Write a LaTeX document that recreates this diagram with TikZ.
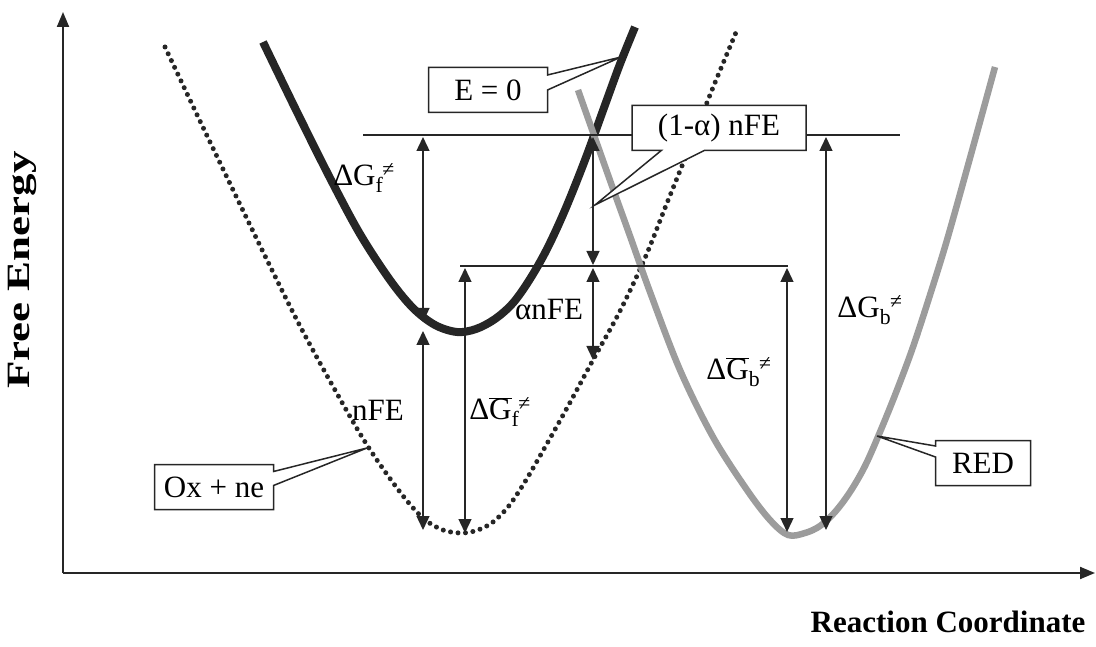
\documentclass[tikz,border=0pt]{standalone}
\usepackage{graphicx}
\usepackage{fontspec}
\setmainfont{Liberation Serif}
\usetikzlibrary{arrows.meta,shapes.callouts}
\definecolor{ink}{HTML}{262626}
\definecolor{redline}{HTML}{9C9C9C}

% G with a subscript and a superscript
\newcommand\Gsub[2]{G\textsubscript{#1}\kern-1pt\textsuperscript{#2}}
\newcommand\Gbar[2]{\(\overline{\mbox{G}}\)\textsubscript{#1}\kern-1pt\textsuperscript{#2}}

\begin{document}
\begin{tikzpicture}[
  x=1pt,y=-1pt,font=\fontsize{31}{36}\selectfont,
  axis/.style={draw=ink,line width=2pt,-{Triangle[length=15pt,width=12pt]}},
  level/.style={draw=ink,line width=1.4pt},
  gap/.style={draw=ink,line width=1.4pt,
    {Triangle[length=14pt,width=13pt]}-{Triangle[length=14pt,width=13pt]}},
  fwd/.style={draw=ink,line width=8pt},
  back/.style={draw=ink,line width=5pt,dash pattern=on 0pt off 7.5pt,line cap=round},
  red/.style={draw=redline,line width=6.5pt},
  tag/.style={rectangle callout,draw=ink,line width=1.5pt,fill=white,
    minimum height=45pt,inner sep=0pt},
  axislabel/.style={font=\fontsize{31}{36}\selectfont\bfseries}
]
\path[use as bounding box] (0,0) rectangle (1096,647);

% axes
\coordinate (o) at (63,573);
\coordinate (ytip) at (63,12);
\coordinate (xtip) at (1095,573);
\draw[axis] (o) -- (ytip);
\draw[axis] (o) -- (xtip);
\node[axislabel,rotate=90] (fe) at (22,270) {\scalebox{1.45}[1.05]{Free Energy}};
\node[axislabel] (rc) at (948,622) {Reaction Coordinate};

% the three free energy curves
\draw[back] plot[smooth,tension=.55] coordinates {(165,47) (200,121) (235,194)
  (268,262) (300,326) (335,390) (367,445) (400,492) (423,518) (443,530)
  (462,533) (478,530) (493,522) (508,507) (523,485) (540,456) (567,408)
  (593,360) (620,311) (645,258) (667,203) (690,146) (712,90) (737,30)};
\draw[fwd] plot[smooth,tension=.55] coordinates {(263,42) (297,112) (330,178)
  (360,234) (390,280) (413,308) (435,325) (457,332) (476,329) (495,319)
  (513,303) (530,279) (547,249) (565,210) (585,160) (605,105) (620,64)
  (635,27)};
\draw[red] plot[smooth,tension=.55] coordinates {(578,90) (595,138) (612,186)
  (630,236) (650,292) (680,370) (713,437) (747,490) (770,520) (788,535)
  (805,533) (820,526) (835,512) (850,492) (865,466) (880,432) (897,390)
  (913,347) (930,295) (947,240) (970,158) (995,67)};

% energy levels
\coordinate (topL) at (363,135);
\coordinate (topR) at (900,135);
\coordinate (midL) at (460,266);
\coordinate (midR) at (788,266);
\draw[level] (topL) -- (topR);
\draw[level] (midL) -- (midR);

% barrier heights
\coordinate (f1) at (423,137);  \coordinate (f2) at (423,322);
\coordinate (n1) at (423,331);  \coordinate (n2) at (423,530);
\coordinate (g1) at (465,268);  \coordinate (g2) at (465,533);
\coordinate (a1) at (593,137);  \coordinate (a2) at (593,265);
\coordinate (a3) at (593,268);  \coordinate (a4) at (593,360);
\coordinate (b1) at (787,268);  \coordinate (b2) at (787,532);
\coordinate (c1) at (826,137);  \coordinate (c2) at (826,530);
\draw[gap] (f1) -- (f2);
\draw[gap] (n1) -- (n2);
\draw[gap] (g1) -- (g2);
\draw[gap] (a1) -- (a2);
\draw[gap] (a3) -- (a4);
\draw[gap] (b1) -- (b2);
\draw[gap] (c1) -- (c2);

\node (dGf) at (364,178) {Δ\Gsub{f}{≠}};
\node (nfe) at (378,410) {nFE};
\node (dGfb) at (500,412) {Δ\Gbar{f}{≠}};
\node (anfe) at (549,310) {αnFE};
\node (dGbb) at (739,372) {Δ\Gbar{b}{≠}};
\node (dGb) at (870,310) {Δ\Gsub{b}{≠}};

% callouts
\node[tag,minimum width=119pt,callout pointer width=15pt,
  callout absolute pointer={(621,57)}] (zero) at (488,90) {E = 0};
\node[tag,minimum width=174pt,callout pointer width=43pt,
  callout absolute pointer={(595,205)}] (alpha) at (719,128) {(1-α) nFE};
\node[tag,minimum width=119pt,callout pointer width=14pt,
  callout absolute pointer={(367,448)}] (ox) at (214,487) {Ox + ne};
\node[tag,minimum width=95pt,callout pointer width=11pt,
  callout absolute pointer={(877,436)}] (redtag) at (983,463) {RED};
\end{tikzpicture}
\end{document}
